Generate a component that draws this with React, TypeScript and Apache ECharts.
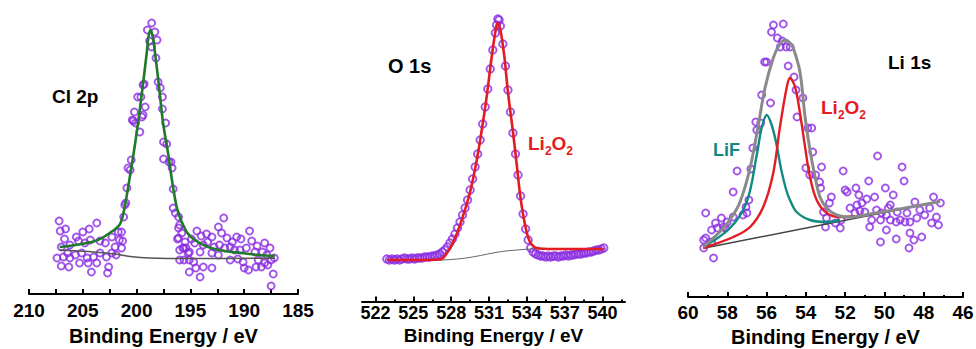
import React, { useEffect, useRef } from 'react';
import * as echarts from 'echarts';

const FONT = '"Liberation Sans", Arial, Helvetica, sans-serif';
const PURPLE = '#8a2be2';
const AXIS_NAME = 'Binding Energy / eV';

// ---------- Panel 1: Cl 2p ----------
const cl2pTicks = [185, 187.5, 190, 192.5, 195, 197.5, 200, 202.5, 205, 207.5, 210];
const cl2pLabels = [185, 190, 195, 200, 205, 210];
const cl2pPoints = [
  [207.2, 79], [207.1, 69], [206.6, 71], [206.7, 61], [207.0, 53], [206.2, 55], [205.6, 63], [205.4, 59],
  [205.0, 68], [204.4, 71], [203.7, 77], [204.8, 57], [204.3, 60], [203.4, 59], [202.9, 57], [202.3, 63],
  [201.7, 68], [201.6, 60], [202.0, 53], [206.8, 43], [206.4, 47], [205.7, 45], [205.1, 47], [204.6, 42],
  [204.0, 43], [203.4, 47], [202.8, 43], [202.3, 47], [201.9, 45], [207.0, 34], [206.3, 33], [205.3, 37],
  [204.5, 37], [203.7, 37], [204.2, 28], [202.6, 33], [202.7, 27], [201.4, 52], [201.3, 59], [207.4, 42],
  [206.2, 42],
  [198.6, 277], [199.0, 270], [198.3, 268], [198.1, 260], [198.8, 259], [198.6, 253], [198.2, 242],
  [199.4, 215], [198.0, 218], [197.8, 212], [199.9, 203], [199.6, 203], [197.6, 203], [199.2, 193],
  [200.2, 188], [199.4, 185], [200.3, 179], [200.1, 177], [199.7, 168], [197.3, 177], [197.5, 158],
  [197.2, 156], [197.5, 141], [197.0, 138], [200.5, 140], [200.8, 132], [200.6, 130], [196.7, 132],
  [200.9, 112], [196.6, 111], [201.1, 95], [201.2, 83], [196.6, 92], [196.1, 83], [196.0, 75], [201.4, 68],
  [195.8, 67], [196.1, 62], [195.5, 58], [195.4, 52], [196.0, 40], [195.2, 47], [195.1, 40], [195.7, 52],
  [199.3, 216], [200.4, 180], [199.5, 183], [197.6, 191], [196.8, 138], [201.0, 97], [196.4, 87],
  [196.1, 72], [196.2, 61], [195.6, 52],
  [194.9, 61], [194.4, 69], [194.0, 64], [193.5, 66], [193.0, 63], [192.4, 73], [191.9, 82], [192.1, 67],
  [191.6, 62], [191.1, 58], [190.7, 63], [190.3, 61], [189.5, 69], [189.3, 59], [188.8, 54], [188.1, 57],
  [187.6, 52], [194.6, 57], [193.8, 55], [193.4, 58], [192.8, 53], [192.3, 55], [191.8, 52], [191.3, 53],
  [190.9, 50], [190.4, 50], [189.8, 52], [189.0, 48], [188.3, 48], [187.9, 45], [194.1, 48], [193.0, 47],
  [192.4, 45], [191.3, 40], [190.6, 41], [190.1, 38], [188.7, 40], [188.1, 37], [187.5, 40], [194.7, 38],
  [194.5, 32], [195.1, 28], [194.1, 23], [193.8, 33], [193.0, 32], [190.0, 32], [189.6, 30], [188.9, 33],
  [188.4, 33], [187.8, 35], [187.3, 26], [187.5, 14], [195.6, 40], [187.2, 42], [195.1, 48], [196.0, 50],
];
const cl2pFit = [
  [207.15, 53], [205.1, 56], [203.6, 60], [202.5, 67], [201.6, 75], [201.2, 88], [200.8, 112], [200.3, 145],
  [199.85, 178], [199.45, 212], [199.05, 248], [198.9, 263], [198.7, 270], [198.5, 263], [198.3, 248],
  [197.9, 212], [197.55, 178], [197.05, 145], [196.6, 112], [196.15, 88], [195.35, 68], [194.6, 60],
  [193.35, 53], [191.8, 49], [190.25, 47], [188.7, 45], [187.15, 44],
];
const cl2pBackground = [
  [207.15, 50], [204.5, 48.5], [202.0, 46], [200.6, 43.5], [198.8, 42], [194.7, 41.5], [187.15, 41.7],
];

// ---------- Panel 2: O 1s ----------
const o1sMajorTicks = [522, 525, 528, 531, 534, 537, 540];
const o1sMinorTicks = [523.5, 526.5, 529.5, 532.5, 535.5, 538.5, 541.5];
const o1sPoints = [
  [522.9, 61], [523.1, 60], [523.3, 61], [523.5, 60], [523.7, 61], [523.9, 60], [524.1, 61], [524.3, 62],
  [524.5, 61], [524.7, 61], [524.9, 62], [525.1, 61], [525.3, 62], [525.5, 62], [525.7, 62], [525.9, 63],
  [526.1, 63], [526.3, 63], [526.5, 64], [526.7, 64], [526.9, 65], [527.1, 66], [527.3, 68], [527.5, 70],
  [527.7, 73], [527.9, 77], [528.1, 81], [528.3, 86], [528.5, 92], [528.7, 98], [528.9, 105], [529.1, 112],
  [529.3, 120], [529.5, 130], [529.7, 141], [529.9, 153], [530.1, 166], [530.3, 180], [530.5, 196],
  [530.7, 213], [530.9, 231], [531.1, 251], [531.3, 270], [531.5, 287], [531.6, 295], [531.7, 301],
  [531.8, 300], [531.9, 294], [532.1, 276], [532.3, 254], [532.5, 230], [532.7, 208], [532.9, 187],
  [533.1, 166], [533.3, 145], [533.5, 124], [533.7, 106], [533.9, 91], [534.1, 80], [534.3, 72], [534.5, 68],
  [534.7, 66], [534.9, 65], [535.1, 64], [535.3, 64], [535.5, 63], [535.7, 64], [535.9, 63], [536.1, 64],
  [536.3, 64], [536.5, 63], [536.7, 64], [536.9, 64], [537.1, 65], [537.3, 64], [537.5, 65], [537.7, 65],
  [537.9, 66], [538.1, 66], [538.3, 66], [538.5, 67], [538.7, 67], [538.9, 68], [539.1, 68], [539.3, 69],
  [539.5, 70], [539.7, 70], [539.9, 71], [540.1, 72],
];
const o1sFit = [
  [522.9, 60], [525.0, 60], [527.1, 60.5], [527.65, 66.7], [528.3, 81.7], [528.96, 105], [529.5, 128],
  [530.0, 158], [530.4, 188], [530.8, 222], [531.2, 262], [531.5, 288], [531.66, 297], [531.87, 292],
  [532.2, 265], [532.5, 228], [532.9, 188], [533.2, 155], [533.5, 122], [533.86, 95], [534.25, 78],
  [534.8, 72], [536.1, 71], [538.2, 71], [540.1, 71],
];
const o1sBackground = [
  [522.9, 60], [527.1, 60], [528.5, 61], [529.7, 63], [530.9, 66], [532.0, 68.5], [533.2, 70], [534.5, 71],
  [540.1, 71],
];

// ---------- Panel 3: Li 1s ----------
const li1sMajorTicks = [46, 48, 50, 52, 54, 56, 58, 60];
const li1sMinorTicks = [47, 49, 51, 53, 55, 57, 59];
const li1sPoints = [
  [59.2, 72], [59.2, 80], [59.1, 107], [59.1, 82], [58.7, 62], [58.8, 78], [58.8, 90], [58.6, 97], [58.5, 92],
  [58.3, 102], [58.2, 93], [58.0, 98], [57.7, 103], [58.1, 92], [57.7, 128], [57.5, 149], [57.2, 105],
  [57.0, 107], [57.05, 113], [56.9, 120], [56.8, 151], [56.7, 172], [56.5, 190], [56.55, 198], [56.3, 197],
  [56.25, 225], [55.8, 217], [56.1, 258], [56.0, 258], [55.75, 288], [55.65, 295], [55.45, 282], [55.2, 279],
  [55.15, 296], [55.3, 273], [54.8, 273], [55.0, 273], [54.9, 254], [54.6, 243], [54.5, 230], [54.45, 203],
  [54.15, 222], [53.9, 192], [53.7, 192], [53.65, 168], [54.0, 152], [53.8, 145], [53.5, 145], [53.2, 153],
  [53.3, 138], [53.25, 132], [52.7, 123], [52.8, 117], [53.1, 108], [52.95, 102], [53.0, 93], [52.25, 92],
  [52.2, 100], [52.5, 97], [52.1, 149], [52.0, 130], [51.9, 128], [51.45, 132], [51.3, 125], [50.8, 139],
  [50.35, 164], [49.95, 132], [49.55, 125], [49.1, 153], [49.0, 139], [51.75, 112], [51.4, 115], [51.15, 117],
  [51.25, 109], [50.9, 121], [50.5, 123], [51.5, 107], [51.0, 108], [50.4, 110], [50.15, 107], [49.8, 112],
  [49.7, 115], [49.9, 105], [49.35, 108], [48.85, 107], [48.45, 118], [48.2, 110], [47.7, 112], [47.5, 123],
  [47.15, 117], [47.35, 103], [47.95, 105], [48.35, 102], [49.2, 100], [49.7, 100], [50.2, 100], [50.65, 100],
  [50.75, 93], [49.9, 90], [49.4, 98], [48.95, 98], [48.7, 98], [47.25, 95], [47.6, 97], [48.7, 87],
  [48.5, 80], [48.1, 83], [49.4, 81], [48.75, 72], [50.2, 78],
];
const li1sTotal = [
  [59.22, 73], [58.71, 82], [58.2, 92], [57.77, 103], [57.35, 118], [56.84, 152], [56.42, 195], [56.08, 232],
  [55.66, 262], [55.35, 275], [55.06, 280], [54.8, 277], [54.64, 272], [54.3, 248], [54.04, 203], [53.79, 170],
  [53.53, 143], [53.28, 123], [52.94, 112], [52.43, 105], [51.75, 103], [50.73, 106], [49.2, 111], [47.17, 118.5],
];
const li1sLi2O2 = [
  [59.22, 72], [57.69, 83], [56.84, 93], [56.17, 113], [55.66, 147], [55.32, 193], [54.97, 233], [54.81, 242],
  [54.55, 233], [54.3, 207], [54.04, 173], [53.79, 143], [53.45, 120], [52.94, 107], [52.26, 103], [51.0, 104.5],
];
const li1sLiF = [
  [59.22, 73], [57.86, 92], [57.01, 118], [56.5, 165], [56.25, 192], [55.99, 205], [55.74, 195], [55.5, 176],
  [55.25, 150], [55.0, 130], [54.81, 120], [54.47, 108], [53.79, 100], [52.94, 98], [52.26, 100],
];
const li1sBackground = [[59.22, 71.7], [47.17, 118.5]];

function mainAxis(gridIndex: number, min: number, max: number, inverse: boolean, ticks: number[], labels: number[], labelSize: number, margin: number, nameGap: number, nameSize: number) {
  return {
    type: 'value', gridIndex, min, max, inverse, position: 'bottom',
    axisLine: { show: true, onZero: false, lineStyle: { color: '#000', width: 2 } },
    axisTick: { show: true, inside: true, length: 5, customValues: ticks, lineStyle: { color: '#000', width: 2 } },
    axisLabel: {
      show: true, customValues: labels, margin, color: '#000', fontSize: labelSize, fontWeight: 'bold',
      fontFamily: FONT, formatter: (v: number) => String(v),
    },
    splitLine: { show: false },
    minorTick: { show: false },
    name: AXIS_NAME, nameLocation: 'middle', nameGap,
    nameTextStyle: { color: '#000', fontSize: nameSize, fontWeight: 'bold', fontFamily: FONT },
  };
}

function minorAxis(gridIndex: number, min: number, max: number, inverse: boolean, ticks: number[]) {
  return {
    type: 'value', gridIndex, min, max, inverse, position: 'bottom', offset: 0,
    axisLine: { show: false, onZero: false },
    axisTick: { show: true, inside: true, length: 2, customValues: ticks, lineStyle: { color: '#000', width: 2 } },
    axisLabel: { show: false },
    splitLine: { show: false },
  };
}

function scatter(idx: number, xIdx: number, data: number[][], size: number) {
  return {
    type: 'scatter', xAxisIndex: xIdx, yAxisIndex: idx, data, symbol: 'circle', symbolSize: size,
    itemStyle: { color: 'rgba(255,255,255,0)', borderColor: PURPLE, borderWidth: 1.9 },
    silent: true, z: 2,
  };
}

function curve(idx: number, xIdx: number, data: number[][], color: string, width: number, z: number) {
  return {
    type: 'line', xAxisIndex: xIdx, yAxisIndex: idx, data, smooth: 0.35, showSymbol: false, symbol: 'none',
    lineStyle: { color, width }, silent: true, z,
  };
}

function rich(color: string) {
  return {
    a: { fontSize: 19, fontWeight: 'bold', fontFamily: FONT, fill: color, color, lineHeight: 27 },
    b: { fontSize: 12, fontWeight: 'bold', fontFamily: FONT, fill: color, color, verticalAlign: 'bottom', lineHeight: 27 },
  };
}

export default function App() {
  const ref = useRef<HTMLDivElement>(null);
  useEffect(() => {
    if (!ref.current) return;
    const chart = echarts.init(ref.current, undefined, { renderer: 'svg' });
    const RED = '#e31b23';
    const GREEN = '#1f7a2a';
    const TEAL = '#128a82';
    const option: any = {
      animation: false,
      backgroundColor: '#fff',
      grid: [
        { left: 29, right: 678, top: 0, bottom: 55, containLabel: false, outerBoundsMode: 'none' },
        { left: 362, right: 351, top: 0, bottom: 47.5, containLabel: false, outerBoundsMode: 'none' },
        { left: 688, right: 13, top: 0, bottom: 52, containLabel: false, outerBoundsMode: 'none' },
      ],
      xAxis: [
        mainAxis(0, 185, 210, true, cl2pTicks, cl2pLabels, 19, 7, 32, 20),
        mainAxis(1, 520.93, 541.78, false, o1sMajorTicks, o1sMajorTicks, 18, 2, 17, 19),
        minorAxis(1, 520.93, 541.78, false, o1sMinorTicks),
        mainAxis(2, 46, 60, true, li1sMajorTicks, li1sMajorTicks, 19, 6, 27, 20),
        minorAxis(2, 46, 60, true, li1sMinorTicks),
      ],
      yAxis: [
        { type: 'value', gridIndex: 0, min: 6, max: 300, show: false },
        { type: 'value', gridIndex: 1, min: 18.5, max: 320, show: false },
        { type: 'value', gridIndex: 2, min: 23, max: 320, show: false },
      ],
      series: [
        scatter(0, 0, cl2pPoints, 7),
        curve(0, 0, cl2pBackground, '#555', 1.5, 3),
        curve(0, 0, cl2pFit, GREEN, 2.6, 4),
        scatter(1, 1, o1sPoints, 7.5),
        curve(1, 1, o1sBackground, '#666', 1, 3),
        curve(1, 1, o1sFit, RED, 2.6, 4),
        scatter(2, 3, li1sPoints, 7),
        curve(2, 3, li1sBackground, '#444', 1.5, 3),
        curve(2, 3, li1sLiF, TEAL, 2.4, 4),
        curve(2, 3, li1sLi2O2, RED, 2.4, 5),
        curve(2, 3, li1sTotal, '#8a8a8a', 3, 6),
      ],
      graphic: [
        { type: 'text', x: 52, y: 96, style: { text: 'Cl 2p', fill: '#000', font: `bold 19px ${FONT}`, verticalAlign: 'middle' } },
        { type: 'text', x: 388, y: 66, style: { text: 'O 1s', fill: '#000', font: `bold 20px ${FONT}`, verticalAlign: 'middle' } },
        { type: 'text', x: 528, y: 143, style: { text: '{a|Li}{b|2}{a|O}{b|2}', rich: rich(RED), verticalAlign: 'middle' } },
        { type: 'text', x: 888, y: 62, style: { text: 'Li 1s', fill: '#000', font: `bold 19px ${FONT}`, verticalAlign: 'middle' } },
        { type: 'text', x: 821, y: 107, style: { text: '{a|Li}{b|2}{a|O}{b|2}', rich: rich(RED), verticalAlign: 'middle' } },
        { type: 'text', x: 713, y: 150, style: { text: 'LiF', fill: TEAL, font: `bold 18px ${FONT}`, verticalAlign: 'middle' } },
      ],
    };
    chart.setOption(option);
    return () => chart.dispose();
  }, []);
  return <div ref={ref} style={{ position: 'fixed', left: 0, top: 0, width: 976, height: 349 }} />;
}
